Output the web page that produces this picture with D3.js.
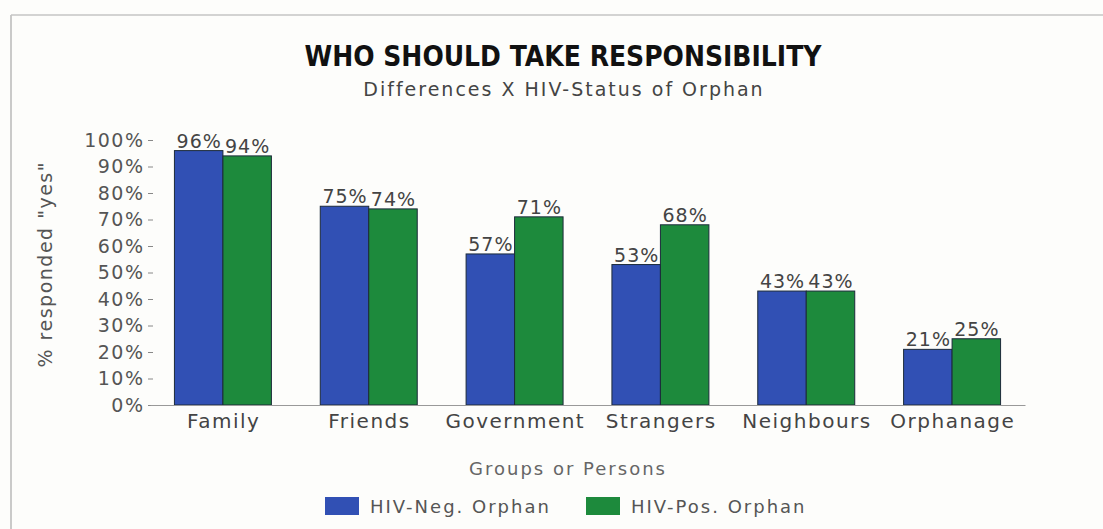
<!DOCTYPE html>
<html>
<head>
<meta charset="utf-8">
<script src="https://cdn.jsdelivr.net/npm/d3@7"></script>
<style>
  html, body { margin: 0; padding: 0; background: #fdfdfb; }
  svg { display: block; }
  text { font-family: "DejaVu Sans", Verdana, sans-serif; }
</style>
</head>
<body>
<svg id="chart" width="1103" height="529"></svg>
<script>
// Share of respondents answering "yes", by group and HIV status of the orphan
const categories = ["Family", "Friends", "Government", "Strangers", "Neighbours", "Orphanage"];
const seriesNames = ["HIV-Neg. Orphan", "HIV-Pos. Orphan"];
const hivNeg = [96, 75, 57, 53, 43, 21];
const hivPos = [94, 74, 71, 68, 43, 25];
const yTicks = [0, 10, 20, 30, 40, 50, 60, 70, 80, 90, 100];
const colors = ["#3150b4", "#1d8a3c"];

const svg = d3.select("#chart");
const W = 1103, H = 529;

// background and frame
svg.append("rect").attr("width", W).attr("height", H).attr("fill", "#fdfdfb");
svg.append("line").attr("x1", 11).attr("x2", 11).attr("y1", 15).attr("y2", H)
  .attr("stroke", "#b8b8b8").attr("stroke-width", 1.5);
svg.append("line").attr("x1", 11).attr("x2", W).attr("y1", 15).attr("y2", 15)
  .attr("stroke", "#c4c4c4").attr("stroke-width", 1.5);

const x0 = d3.scaleBand().domain(categories).range([150, 1025])
  .paddingInner(0.335).paddingOuter(0.1675);
const x1 = d3.scaleBand().domain(seriesNames).range([0, x0.bandwidth()]);
const y = d3.scaleLinear().domain([0, 100]).range([405, 140]);

const rows = categories.map((c, i) => ({ cat: c, vals: [hivNeg[i], hivPos[i]] }));

// titles
svg.append("text").attr("x", 563).attr("y", 66).attr("text-anchor", "middle")
  .attr("font-size", 28).attr("font-weight", "bold").attr("fill", "#111")
  .attr("textLength", 517).attr("lengthAdjust", "spacingAndGlyphs")
  .text("WHO SHOULD TAKE RESPONSIBILITY");
svg.append("text").attr("x", 563).attr("y", 96).attr("text-anchor", "middle")
  .attr("font-size", 19).attr("fill", "#444")
  .attr("letter-spacing", 2).attr("dx", 1)
  .text("Differences X HIV-Status of Orphan");

// y axis: tick marks and labels only
const yAxis = svg.append("g").attr("transform", "translate(153,0)")
  .call(d3.axisLeft(y).tickValues(yTicks).tickFormat(d => d + "%").tickSize(5).tickPadding(5));
yAxis.select(".domain").remove();
yAxis.selectAll(".tick line").attr("stroke", "#888");
yAxis.selectAll(".tick text").attr("font-size", 19).attr("fill", "#555")
  .attr("letter-spacing", 1.5).attr("dx", 1.5)
  .attr("font-family", "DejaVu Sans, Verdana, sans-serif");

svg.append("text").attr("transform", "translate(52,265) rotate(-90)")
  .attr("text-anchor", "middle").attr("font-size", 19).attr("fill", "#555")
  .attr("letter-spacing", 1.5).attr("dx", 0.75)
  .text("% responded \"yes\"");

// bars
const groups = svg.append("g").selectAll("g").data(rows).join("g")
  .attr("transform", d => `translate(${x0(d.cat)},0)`);
groups.selectAll("rect").data(d => d.vals.map((v, j) => ({ v, s: seriesNames[j], j })))
  .join("rect")
  .attr("x", d => x1(d.s))
  .attr("y", d => y(d.v))
  .attr("width", x1.bandwidth())
  .attr("height", d => y(0) - y(d.v))
  .attr("fill", d => colors[d.j])
  .attr("stroke", "#1c2a3a").attr("stroke-width", 1);
groups.selectAll("text").data(d => d.vals.map((v, j) => ({ v, s: seriesNames[j] })))
  .join("text")
  .attr("x", d => x1(d.s) + x1.bandwidth() / 2)
  .attr("y", d => y(d.v) - 3)
  .attr("text-anchor", "middle").attr("font-size", 19).attr("fill", "#444")
  .attr("letter-spacing", 1).attr("dx", 0.5)
  .text(d => d.v + "%");

// x axis
const xAxis = svg.append("g").attr("transform", "translate(0,405)")
  .call(d3.axisBottom(x0).tickSize(0).tickPadding(9));
xAxis.select(".domain").attr("stroke", "#999");
xAxis.selectAll(".tick text").attr("font-size", 20).attr("fill", "#444")
  .attr("letter-spacing", 1.5).attr("dx", 0.75)
  .attr("font-family", "DejaVu Sans, Verdana, sans-serif");

svg.append("text").attr("x", 567).attr("y", 475).attr("text-anchor", "middle")
  .attr("font-size", 18).attr("fill", "#666")
  .attr("letter-spacing", 2).attr("dx", 1)
  .text("Groups or Persons");

// legend
const legendX = [325, 586];
const legend = svg.append("g").selectAll("g").data(seriesNames).join("g")
  .attr("transform", (d, i) => `translate(${legendX[i]},497)`);
legend.append("rect").attr("width", 34).attr("height", 18)
  .attr("fill", (d, i) => colors[i]);
legend.append("text").attr("x", 45).attr("y", 16).attr("font-size", 18)
  .attr("fill", "#555").attr("letter-spacing", 2)
  .text(d => d);
</script>
</body>
</html>
